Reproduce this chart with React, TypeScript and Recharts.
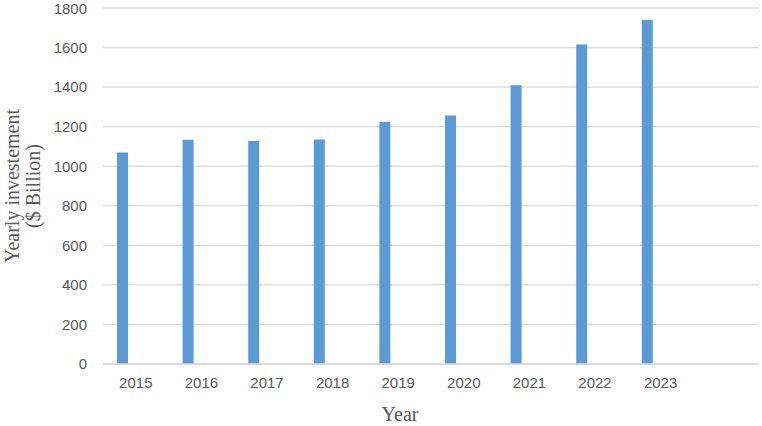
import { BarChart, Bar, XAxis, YAxis, CartesianGrid, Label } from 'recharts'

const years = ['2015', '2016', '2017', '2018', '2019', '2020', '2021', '2022', '2023', '']
const investment = [1070, 1134, 1127, 1135, 1223, 1257, 1409, 1616, 1739, null]
const yTicks = [0, 200, 400, 600, 800, 1000, 1200, 1400, 1600, 1800]

const data = years.map((year, i) => ({ year, investment: investment[i] }))

const grey = '#595959'
const serif = "'Liberation Serif', 'Times New Roman', serif"
const sans = "'Liberation Sans', Arial, sans-serif"

function YTitle() {
  return (
    <g>
      <text x={19} y={186} transform="rotate(-90 19 186)" textAnchor="middle"
        fontFamily={serif} fontSize={20} fill={grey}>
        Yearly investement
      </text>
      <text x={40} y={186} transform="rotate(-90 40 186)" textAnchor="middle"
        fontFamily={serif} fontSize={20} fill={grey}>
        ($ Billion)
      </text>
    </g>
  )
}

function XTitle() {
  return (
    <text x={400} y={421} textAnchor="middle" fontFamily={serif} fontSize={20} fill={grey}>
      Year
    </text>
  )
}

export default function App() {
  return (
    <div style={{ position: 'absolute', left: 0, top: 0, background: '#fff' }}>
      <BarChart width={762} height={426} data={data} barGap={16} barSize={11}
        margin={{ top: 8, right: 3, bottom: 0, left: 0 }}>
        <CartesianGrid vertical={false} stroke="#d9d9d9" strokeWidth={1.3} />
        <XAxis dataKey="year" height={62} axisLine={{ stroke: '#d9d9d9', strokeWidth: 1.3 }} tickLine={false}
          tickSize={0} tickMargin={13} interval={0}
          tick={{ fill: grey, fontSize: 15, fontFamily: sans }}>
          <Label content={<XTitle />} />
        </XAxis>
        <YAxis width={103} domain={[0, 1800]} ticks={yTicks} axisLine={false} tickLine={false}
          tickSize={0} tickMargin={16}
          tick={{ fill: grey, fontSize: 15, fontFamily: sans }}>
          <Label content={<YTitle />} />
        </YAxis>
        <Bar dataKey="investment" fill="#5b9bd5" isAnimationActive={false} />
        <Bar dataKey="blank" fill="#ed7d31" isAnimationActive={false} />
      </BarChart>
    </div>
  )
}
